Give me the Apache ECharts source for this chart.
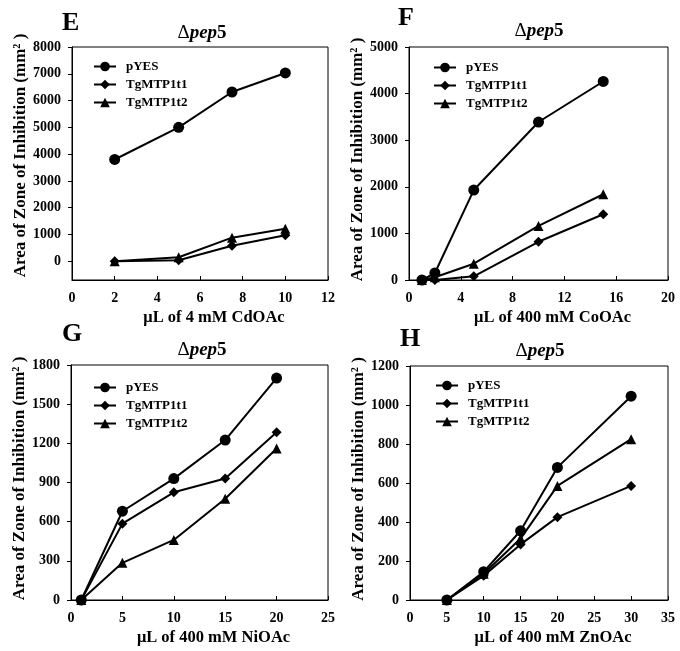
<!DOCTYPE html>
<html>
<head>
<meta charset="utf-8">
<script src="https://cdn.jsdelivr.net/npm/echarts@6/dist/echarts.min.js"></script>
<style>
html,body{margin:0;padding:0;background:#fff;}
#c{width:680px;height:651px;}
</style>
</head>
<body>
<div id="c"></div>
<script>
// ---- data ----
const seriesNames = ['pYES', 'TgMTP1t1', 'TgMTP1t2'];

const xE = [2, 5, 7.5, 10];
const pYES_E = [3800, 5000, 6320, 7030];
const t1_E = [0, 40, 580, 970];
const t2_E = [0, 150, 880, 1210];

const xF = [1, 2, 5, 10, 15];
const pYES_F = [0, 150, 1930, 3390, 4260];
const t1_F = [0, 0, 80, 820, 1410];
const t2_F = [0, 60, 350, 1160, 1840];

const xG = [1, 5, 10, 15, 20];
const pYES_G = [0, 680, 930, 1225, 1700];
const t1_G = [0, 585, 825, 930, 1285];
const t2_G = [0, 285, 460, 775, 1160];

const xH = [5, 10, 15, 20, 30];
const pYES_H = [0, 145, 355, 680, 1045];
const t1_H = [0, 125, 285, 425, 585];
const t2_H = [0, 135, 315, 585, 825];

const yTicksE = [0, 1000, 2000, 3000, 4000, 5000, 6000, 7000, 8000];

const panelLetters = ['E', 'F', 'G', 'H'];
const xNames = ['\u03bcL of 4 mM CdOAc', '\u03bcL of 400 mM CoOAc', '\u03bcL of 400 mM NiOAc', '\u03bcL of 400 mM ZnOAc'];
const yName = 'Area of Zone of Inhibition (mm\u00b2 )';

// ---- layout ----
const FONT = '"Liberation Serif", "Times New Roman", serif';
const grids = [
  {left: 72, top: 47, width: 256, height: 233},
  {left: 409, top: 47, width: 259, height: 233},
  {left: 71, top: 365, width: 257, height: 235},
  {left: 410, top: 366, width: 258, height: 234}
];
const xAxesCfg = [
  {min: 0, max: 12, interval: 2},
  {min: 0, max: 20, interval: 4},
  {min: 0, max: 25, interval: 5},
  {min: 0, max: 35, interval: 5}
];
const yAxesCfg = [
  {min: -700, max: 8000, custom: yTicksE},
  {min: 0, max: 5000, interval: 1000},
  {min: 0, max: 1800, interval: 300},
  {min: 0, max: 1200, interval: 200}
];
const panelData = [
  [xE, [pYES_E, t1_E, t2_E]],
  [xF, [pYES_F, t1_F, t2_F]],
  [xG, [pYES_G, t1_G, t2_G]],
  [xH, [pYES_H, t1_H, t2_H]]
];
const symbols = [['circle', 11], ['diamond', 10], ['triangle', 10]];
const plain = v => String(v);

const xAxis = xAxesCfg.map((c, i) => ({
  type: 'value', gridIndex: i, min: c.min, max: c.max, interval: c.interval,
  name: xNames[i], nameLocation: 'middle', nameGap: 29,
  nameTextStyle: {fontFamily: FONT, fontWeight: 'bold', fontSize: 16.5, color: '#000', padding: [0, 0, 0, 28]},
  axisLine: {show: true, onZero: false, lineStyle: {color: '#000', width: 1}},
  axisTick: {show: true, inside: true, length: 4, lineStyle: {color: '#000'}},
  axisLabel: {fontFamily: FONT, fontWeight: 'bold', fontSize: 14, color: '#000', margin: 11, formatter: plain},
  splitLine: {show: false}
}));

const yAxis = yAxesCfg.map((c, i) => {
  const ax = {
    type: 'value', gridIndex: i, min: c.min, max: c.max,
    name: yName, nameLocation: 'middle', nameGap: 42, nameRotate: 90,
    nameTextStyle: {fontFamily: FONT, fontWeight: 'bold', fontSize: 17, color: '#000', padding: [0, 0, 0, i === 0 ? 16 : 8]},
    axisLine: {show: true, lineStyle: {color: '#000', width: 1}},
    axisTick: {show: true, inside: false, length: 4, lineStyle: {color: '#000'}},
    axisLabel: {fontFamily: FONT, fontWeight: 'bold', fontSize: 14, color: '#000', margin: 11, formatter: plain},
    splitLine: {show: false}
  };
  if (c.custom) {
    ax.axisTick.customValues = c.custom;
    ax.axisLabel.customValues = c.custom;
  } else {
    ax.interval = c.interval;
  }
  return ax;
});

const series = [];
panelData.forEach(([xs, ys], gi) => {
  ys.forEach((vals, si) => {
    series.push({
      type: 'line', name: seriesNames[si], xAxisIndex: gi, yAxisIndex: gi,
      data: xs.map((x, k) => [x, vals[k]]),
      symbol: symbols[si][0], symbolSize: symbols[si][1],
      itemStyle: {color: '#000'},
      lineStyle: {color: '#000', width: 2},
      animation: false
    });
  });
});

const letterPos = [[57, 5], [393, 0], [57, 316], [395, 321]];
const titlePos = [[197, 19], [534, 17], [197, 336], [535, 337]];
const title = [];
letterPos.forEach((p, i) => {
  title.push({text: panelLetters[i], left: p[0], top: p[1],
    textStyle: {fontFamily: FONT, fontWeight: 'bold', fontSize: 26, color: '#000'}});
});
titlePos.forEach((p, i) => {
  title.push({text: '{a|\u0394}{b|pep}{c|5}', left: p[0], top: p[1], textAlign: 'center',
    textStyle: {rich: {
      a: {fontFamily: FONT, fontWeight: 'normal', fontSize: 19, color: '#000'},
      b: {fontFamily: FONT, fontWeight: 'bold', fontStyle: 'italic', fontSize: 19, color: '#000'},
      c: {fontFamily: FONT, fontWeight: 'bold', fontSize: 19, color: '#000'}
    }}});
});

const legendPos = [[88, 55], [428, 56], [88, 376], [430, 374]];
const legend = legendPos.map(p => ({
  data: seriesNames, left: p[0], top: p[1], orient: 'vertical',
  itemWidth: 22, itemHeight: 12, itemGap: 5,
  textStyle: {fontFamily: FONT, fontWeight: 'bold', fontSize: 13, color: '#000', padding: [0, 0, 0, 5]},
  selectedMode: false
}));

const chart = echarts.init(document.getElementById('c'), null, {renderer: 'canvas'});
chart.setOption({
  backgroundColor: '#fff',
  animation: false,
  title: title,
  legend: legend,
  grid: grids.map(g => Object.assign({show: true, borderColor: '#000', borderWidth: 1, backgroundColor: 'transparent'}, g)),
  xAxis: xAxis,
  yAxis: yAxis,
  series: series
});
</script>
</body>
</html>
